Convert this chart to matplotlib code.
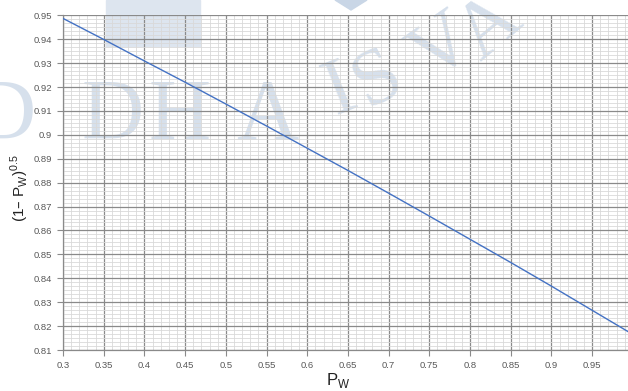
import matplotlib
matplotlib.use("Agg")
import matplotlib.pyplot as plt
from matplotlib.ticker import FormatStrFormatter, AutoMinorLocator

# Data
pw = [0.30, 0.35, 0.40, 0.45, 0.50, 0.55, 0.60, 0.65, 0.70, 0.75, 0.80, 0.85, 0.90, 0.95, 1.00]
val = [0.9487, 0.9399, 0.9309, 0.9220, 0.9129, 0.9037, 0.8944, 0.8851,
       0.8756, 0.8660, 0.8563, 0.8466, 0.8367, 0.8266, 0.8165]
x_ticks = [0.3, 0.35, 0.4, 0.45, 0.5, 0.55, 0.6, 0.65, 0.7, 0.75, 0.8, 0.85, 0.9, 0.95]
y_ticks = [0.81, 0.82, 0.83, 0.84, 0.85, 0.86, 0.87, 0.88, 0.89, 0.9, 0.91, 0.92, 0.93, 0.94, 0.95]

W, H = 628, 391
fig = plt.figure(figsize=(W / 100, H / 100), dpi=100)
ax = fig.add_axes([63 / W, 1 - 350 / H, 1 - 63 / W, (350 - 15.3) / H])
ax.set_zorder(2)

# watermark (decorative), drawn in figure pixel coords
wm_color = '#c9d6e6'
def px(x, y):
    return (x / W, 1 - y / H)
letters = [
    ("D", 5, 118, 0, 62),
    ("D", 113, 118, 0, 62),
    ("H", 180, 118, 0, 62),
    ("A", 267, 118, 0, 62),
    ("I", 340, 92, 22, 58),
    ("S", 378, 80, 28, 58),
    ("V", 443, 50, 35, 58),
    ("A", 490, 28, 40, 58),
]
for ch, x, y, rot, fs in letters:
    fig.text(*px(x, y), ch, fontsize=fs, family='Liberation Serif', color=wm_color,
             rotation=rot, ha='center', va='center', alpha=0.75, zorder=0)
fig.patches.append(plt.Rectangle(px(106, 46), 94 / W, 46 / H, transform=fig.transFigure,
                                 color='#dde5ef', zorder=0))
fig.patches.append(plt.Polygon([px(335, 0), px(367, 0), px(351, 10)], closed=True,
                               transform=fig.transFigure, color='#c9d6e6', zorder=0))

ax.set_facecolor('none')
ax.plot(pw, val, color='#4472c4', lw=1.0, zorder=5)

ax.set_xlim(0.3, 0.994)
ax.set_ylim(0.81, 0.95)
ax.set_xticks(x_ticks)
ax.set_yticks(y_ticks)
ax.xaxis.set_minor_locator(AutoMinorLocator(5))
ax.yaxis.set_minor_locator(AutoMinorLocator(6))
ax.xaxis.set_major_formatter(FormatStrFormatter('%g'))
ax.yaxis.set_major_formatter(FormatStrFormatter('%g'))

ax.grid(which='major', color='#8a8a8a', lw=0.9, zorder=1)
ax.grid(which='minor', color='#d9d9d9', lw=0.6, zorder=0.5)
ax.set_axisbelow(True)

for s in ['top', 'right']:
    ax.spines[s].set_visible(False)
for s in ['left', 'bottom']:
    ax.spines[s].set_color('#8a8a8a')
    ax.spines[s].set_linewidth(0.9)

ax.tick_params(which='major', length=4, width=0.8, color='#8a8a8a',
               labelsize=6.8, labelcolor='#595959', pad=4)
ax.tick_params(which='minor', length=0)
for lab in ax.get_xticklabels() + ax.get_yticklabels():
    lab.set_family('Liberation Sans')

fig.text(338 / W, 1 - 381 / H, r'P$_\mathregular{W}$', fontsize=12, ha='center', va='center',
         family='Liberation Sans', color='#222222')
fig.text(20 / W, 1 - 188 / H, r'(1– P$_\mathregular{W}$)$^\mathregular{0.5}$', fontsize=11,
         rotation=90, ha='center', va='center', family='Liberation Sans', color='#222222')

fig.savefig('out.png', dpi=100)
